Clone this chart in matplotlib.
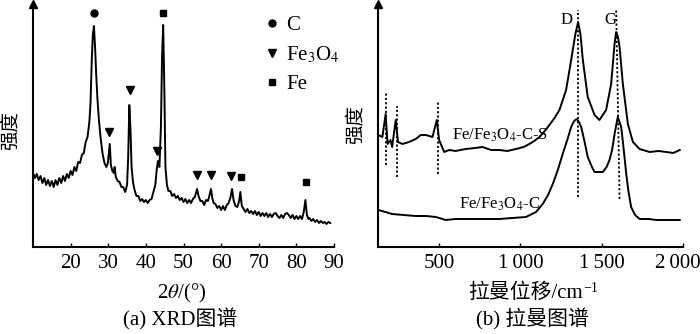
import numpy as np
import matplotlib
matplotlib.use("Agg")
import matplotlib.pyplot as plt
import matplotlib.transforms as mtransforms
from matplotlib.lines import Line2D

plt.rcParams['font.family'] = ['Liberation Serif', 'Noto Sans CJK SC']
plt.rcParams['mathtext.fontset'] = 'stix'
plt.rcParams['axes.unicode_minus'] = False

# (a) XRD pattern, intensity in arbitrary units
xrd_2theta = [10, 10.5, 11, 11.5, 12, 12.5, 13, 13.5, 14, 14.5,
              15, 15.5, 16, 16.5, 17, 17.5, 18, 18.5, 19, 19.5,
              20, 20.5, 21, 21.5, 22, 22.5, 23, 23.5, 24, 24.5,
              25, 25.3, 25.6, 25.9, 26.2, 26.5, 26.8, 27.1, 27.5, 28,
              28.5, 29, 29.5, 29.9, 30.2, 30.4, 30.7, 31.1, 31.5, 31.7,
              32, 32.5, 33, 33.5, 34, 34.5, 35, 35.3, 35.6, 35.9,
              36.2, 36.6, 37, 37.5, 38, 38.5, 39, 39.5, 40, 40.5,
              41, 41.5, 42, 42.5, 42.9, 43.2, 43.6, 44.0, 44.3, 44.6,
              44.9, 45.2, 45.6, 46, 46.5, 47, 47.5, 48, 48.5, 49,
              49.5, 50, 50.5, 51, 51.5, 52, 52.5, 53, 53.3, 53.6,
              54, 54.5, 55, 55.5, 56, 56.5, 57, 57.3, 57.7, 58,
              58.5, 59, 59.5, 60, 60.5, 61, 61.5, 62, 62.5, 62.9,
              63.3, 63.8, 64.3, 64.8, 65.1, 65.5, 66, 66.5, 67, 67.5,
              68, 68.5, 69, 69.5, 70, 70.5, 71, 71.5, 72, 72.5,
              73, 73.5, 74, 74.5, 75, 75.5, 76, 76.5, 77, 77.5,
              78, 78.5, 79, 79.5, 80, 80.5, 81, 81.5, 82, 82.4,
              82.8, 83.2, 83.5, 84, 84.5, 85, 85.5, 86, 86.5, 87,
              87.5, 88, 88.5, 89]
xrd_int = [74, 69, 73, 67, 71, 64, 69, 62, 67, 61,
           66, 60, 67, 62, 69, 64, 71, 66, 73, 69,
           76, 72, 80, 76, 85, 84, 92, 94, 105, 110,
           126, 145, 185, 212, 221, 200, 172, 150, 128, 108,
           93, 84, 80, 84, 96, 103, 82, 76, 74, 80,
           70, 66, 65, 60, 60, 55, 62, 90, 142, 118,
           80, 64, 57, 51, 51, 46, 48, 45, 47, 44,
           47, 48, 55, 62, 78, 86, 80, 120, 190, 222,
           160, 80, 62, 56, 56, 51, 53, 49, 51, 47,
           49, 45, 48, 44, 47, 44, 48, 50, 54, 58,
           51, 46, 46, 42, 47, 46, 53, 58, 48, 44,
           43, 39, 41, 37, 41, 37, 42, 44, 50, 58,
           47, 41, 40, 46, 55, 41, 38, 35, 38, 34,
           36, 33, 36, 32, 35, 31, 34, 31, 34, 30,
           33, 30, 33, 34, 31, 29, 32, 29, 33, 34,
           32, 29, 32, 28, 31, 28, 31, 28, 36, 47,
           32, 28, 29, 26, 28, 25, 27, 24, 26, 24,
           25, 23, 25, 24]

# phase markers above the peaks
c_pos, c_h = [26.3], [234]
fe3o4_pos = [30.3, 35.7, 43.0, 53.5, 57.2, 62.5]
fe3o4_h = [115, 157, 96, 72, 72, 71]
fe_pos = [44.6, 65.2, 82.5]
fe_h = [234, 70, 65]

# (b) Raman spectra
raman_s_x = [126, 151, 171, 183, 201, 211, 233, 247, 274, 315,
             356, 387, 418, 459, 486, 500, 531, 562, 600, 664,
             720, 767, 820, 870, 920, 973, 1020, 1055, 1085, 1117,
             1150, 1178, 1210, 1240, 1281, 1312, 1338, 1355, 1369, 1384,
             1414, 1456, 1486, 1527, 1558, 1579, 1589, 1600, 1610, 1630,
             1661, 1692, 1733, 1795, 1850, 1898, 1940, 1980]
raman_s_y = [112, 110, 133, 103, 107, 100, 127, 105, 103, 105,
             108, 112, 112, 110, 127, 107, 95, 97, 96, 98,
             99, 100, 97, 97, 96, 98, 100, 103, 106, 110,
             116, 122, 129, 137, 157, 187, 213, 225, 213, 187,
             150, 132, 127, 137, 163, 203, 215, 210, 200, 163,
             123, 105, 98, 95, 96, 95, 94, 97]
raman_c_x = [126, 170, 211, 280, 356, 420, 480, 541, 600, 664,
             760, 870, 950, 1034, 1096, 1137, 1170, 1199, 1230, 1260,
             1290, 1312, 1330, 1347, 1360, 1374, 1395, 1414, 1440, 1456,
             1507, 1530, 1548, 1565, 1579, 1599, 1620, 1635, 1651, 1665,
             1681, 1705, 1733, 1790, 1836, 1900, 1980]
raman_c_y = [37, 35, 33, 32, 31, 31, 30, 27, 28, 28,
             28, 28, 29, 30, 35, 43, 52, 63, 77, 93,
             108, 120, 126, 128, 125, 120, 105, 90, 80, 75,
             75, 80, 87, 98, 113, 130, 120, 98, 73, 55,
             40, 32, 28, 28, 27, 27, 27]

# dotted guide lines (x bottom, x top, y bottom, y top)
guide_x0 = [171, 243, 490, 1357, 1610]
guide_x1 = [171, 243, 490, 1357, 1589]
guide_y0 = [82, 70, 73, 50, 48]
guide_y1 = [154, 141, 146, 237, 237]

fig = plt.figure(figsize=(7, 3.34), dpi=100)
W, H = 700, 334
ax1 = fig.add_axes([33 / W, 1 - 247 / H, (334 - 33) / W, 243 / H])
ax2 = fig.add_axes([378 / W, 1 - 247 / H, (683 - 378) / W, 243 / H])

for ax in (ax1, ax2):
    ax.spines['top'].set_visible(False)
    ax.spines['right'].set_visible(False)
    ax.spines['left'].set_linewidth(1.5)
    ax.spines['bottom'].set_linewidth(1.5)
    ax.set_yticks([])
    ax.tick_params(axis='x', direction='in', length=3, width=1, labelsize=15, pad=5)
    ax.plot(0, 1, marker='^', color='k', markersize=6, transform=ax.transAxes, clip_on=False)
    ax.set_ylim(0, 243)

# XRD
ax1.plot(xrd_2theta, xrd_int, color='k', lw=1.4)
ax1.plot(c_pos, c_h, 'o', color='k', markersize=5)
ax1.plot(fe3o4_pos, fe3o4_h, 'v', color='k', markersize=6)
ax1.plot(fe_pos, fe_h, 's', color='k', markersize=5)
ax1.set_xlim(10, 90)
ax1.set_xticks([20, 30, 40, 50, 60, 70, 80, 90])
handles = [Line2D([], [], ls='', marker='o', color='k', markersize=5),
           Line2D([], [], ls='', marker='v', color='k', markersize=6),
           Line2D([], [], ls='', marker='s', color='k', markersize=5)]
ax1.legend(handles, ['C', 'Fe$_3$O$_4$', 'Fe'], loc='upper left',
           bbox_to_anchor=(0.74, 0.995), frameon=False, fontsize=15,
           handlelength=0.6, handletextpad=0.35, labelspacing=0.45, borderpad=0)

# Raman
ax2.plot(raman_s_x, raman_s_y, color='k', lw=1.4)
ax2.plot(raman_c_x, raman_c_y, color='k', lw=1.4)
for x0, x1, y0, y1 in zip(guide_x0, guide_x1, guide_y0, guide_y1):
    ax2.plot([x0, x1], [y0, y1], color='k', lw=1.3, dashes=(1.2, 1.2))
ax2.set_xlim(124, 2000)
ax2.set_xticks([500, 1000, 1500, 2000])
ax2.set_xticklabels(['500', '1\u2009000', '1\u2009500', '2\u2009000'])
# keep the last label inside the canvas
last = ax2.get_xticklabels()[-1]
last.set_transform(last.get_transform() + mtransforms.ScaledTranslation(-5 / 100, 0, fig.dpi_scale_trans))
ax2.text(1281, 227, 'D', fontsize=12, ha='center', va='center')
ax2.text(1554, 227, 'G', fontsize=12, ha='center', va='center')
ax2.text(582, 112, 'Fe/Fe$_3$O$_4$-C-S', fontsize=12, ha='left', va='center')
ax2.text(623, 43, 'Fe/Fe$_3$O$_4$-C', fontsize=12, ha='left', va='center')

# axis titles and captions
fig.text(11 / W, 1 - 130 / H, '强度', rotation=90, fontsize=14, ha='center', va='center')
fig.text(356 / W, 1 - 125 / H, '强度', rotation=90, fontsize=14, ha='center', va='center')
fig.text(182 / W, 1 - 293 / H, r'2$\theta$/(°)', fontsize=15, ha='center', va='center')
fig.text(180 / W, 1 - 319 / H, '(a) XRD图谱', fontsize=15, ha='center', va='center')
fig.text(532 / W, 1 - 319 / H, '(b) 拉曼图谱', fontsize=15, ha='center', va='center')

# raman x title: plain text plus a separate superscript
t = fig.text(525 / W, 1 - 293 / H, '拉曼位移/cm', fontsize=15, ha='center', va='center')
fig.canvas.draw()
bb = t.get_window_extent()
fig.text((bb.x1 + 1) / W, (bb.y1 - 5) / H, '\u22121', fontsize=10, ha='left', va='center')

fig.savefig('out.png', dpi=100)
